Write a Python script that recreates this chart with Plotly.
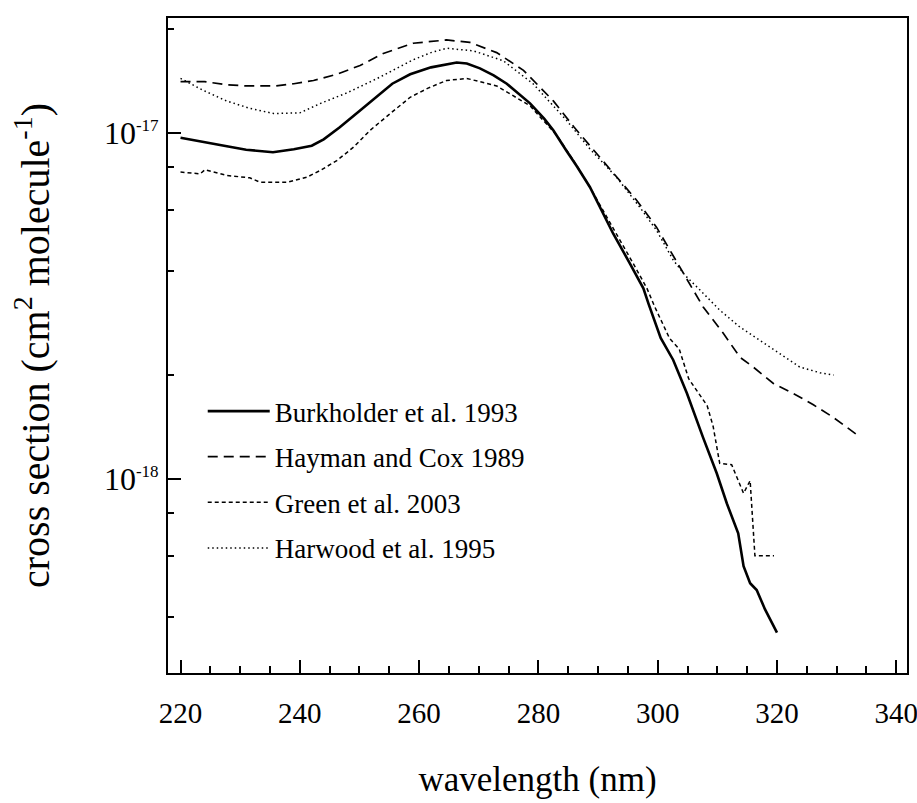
import plotly.graph_objects as go

# ---- data ----
burk_wl = [220, 224, 228, 231, 235.5, 239, 242, 244, 246.7, 250, 252, 255.5, 258.5, 262, 266.3, 268,
           270.2, 272.5, 274.7, 278.6, 281, 282.5, 284.7, 286.5, 288.65, 290.6, 292.55, 295.35, 297.6,
           298.5, 300.5, 302.6, 304.9, 307.6, 309.9, 311.6, 313.5, 314.4, 315.5, 316.6, 318, 320]
burk_cs = [9.7e-18, 9.4e-18, 9.15e-18, 8.96e-18, 8.81e-18, 8.99e-18, 9.2e-18, 9.6e-18, 1.04e-17, 1.16e-17,
           1.24e-17, 1.39e-17, 1.48e-17, 1.55e-17, 1.60e-17, 1.59e-17, 1.54e-17, 1.47e-17, 1.39e-17, 1.22e-17,
           1.10e-17, 1.02e-17, 8.9e-18, 8.0e-18, 6.98e-18, 6.0e-18, 5.12e-18, 4.2e-18, 3.56e-18, 3.2e-18,
           2.56e-18, 2.21e-18, 1.77e-18, 1.32e-18, 1.04e-18, 8.5e-19, 6.97e-19, 5.6e-19, 5.0e-19, 4.78e-19,
           4.2e-19, 3.6e-19]

hay_wl = [220, 224, 227.7, 231, 236, 239, 242.3, 246.2, 250.1, 254, 259, 264.6, 268.5, 273, 277.5, 282.5,
          286, 289.8, 293.1, 296.5, 299.8, 302.1, 304.9, 307.6, 311.0, 313.8, 316.0, 319.4, 322.7, 326.1,
          329.4, 333.5]
hay_cs = [1.41e-17, 1.41e-17, 1.38e-17, 1.37e-17, 1.37e-17, 1.39e-17, 1.42e-17, 1.48e-17, 1.57e-17, 1.70e-17,
          1.82e-17, 1.86e-17, 1.83e-17, 1.71e-17, 1.52e-17, 1.24e-17, 1.04e-17, 8.72e-18, 7.46e-18, 6.39e-18,
          5.35e-18, 4.58e-18, 3.8e-18, 3.15e-18, 2.64e-18, 2.25e-18, 2.11e-18, 1.89e-18, 1.77e-18, 1.64e-18,
          1.51e-18, 1.34e-18]

green_wl = [220, 223.3, 224.1, 227.7, 231.6, 233.3, 238, 241.2, 243.4, 246.2, 249, 251.8, 255.7, 258.5,
            261.5, 264.6, 268, 273, 278.6, 283.1, 285.9, 288.6, 291.5, 293.1, 295.9, 298.2, 299.5, 302.0,
            303.6, 305.2, 308.3, 309.3, 310.4, 312.4, 314.4, 315.5, 316.3, 319.5]
green_cs = [7.72e-18, 7.63e-18, 7.84e-18, 7.55e-18, 7.43e-18, 7.22e-18, 7.22e-18, 7.46e-18, 7.8e-18, 8.33e-18,
            9.11e-18, 1.02e-17, 1.16e-17, 1.27e-17, 1.35e-17, 1.42e-17, 1.44e-17, 1.37e-17, 1.20e-17, 9.85e-18,
            8.33e-18, 7.0e-18, 5.71e-18, 5.12e-18, 4.2e-18, 3.56e-18, 3.15e-18, 2.55e-18, 2.38e-18, 1.95e-18,
            1.63e-18, 1.42e-18, 1.11e-18, 1.10e-18, 9.1e-19, 9.9e-19, 6.0e-19, 6.0e-19]

har_wl = [220, 223.8, 227.7, 231.6, 235.6, 240, 243.5, 248, 253, 256, 259, 262, 264.6, 269.1, 274.1, 279.1,
          284.7, 288.65, 293.1, 297.0, 299.8, 302.6, 304.6, 307.1, 310.4, 313.8, 317.1, 320.5, 323.8, 327.2,
          329.5]
har_cs = [1.44e-17, 1.33e-17, 1.24e-17, 1.18e-17, 1.14e-17, 1.145e-17, 1.22e-17, 1.31e-17, 1.44e-17, 1.53e-17,
          1.63e-17, 1.71e-17, 1.76e-17, 1.73e-17, 1.62e-17, 1.39e-17, 1.09e-17, 9.0e-18, 7.46e-18, 6.11e-18,
          5.24e-18, 4.30e-18, 3.88e-18, 3.52e-18, 3.08e-18, 2.75e-18, 2.52e-18, 2.31e-18, 2.11e-18, 2.03e-18,
          2.0e-18]

names = ["Burkholder et al. 1993", "Hayman and Cox 1989", "Green et al. 2003", "Harwood et al. 1995"]

x_ticks = [220, 240, 260, 280, 300, 320, 340]
x_minor = [225, 230, 235, 245, 250, 255, 265, 270, 275, 285, 290, 295, 305, 310, 315, 325, 330, 335]
y_ticks = [1e-18, 1e-17]
y_ticktext = ["10<sup><span style='font-size:17px'>-18</span></sup>",
              "10<sup><span style='font-size:17px'>-17</span></sup>"]
y_minor = [4e-19, 6e-19, 8e-19, 2e-18, 4e-18, 6e-18, 8e-18, 2e-17]

FONT = "Liberation Serif"

fig = go.Figure()
series = [
    (burk_wl, burk_cs, dict(color="black", width=2.6, dash="solid")),
    (hay_wl, hay_cs, dict(color="black", width=1.7, dash="10px,6px")),
    (green_wl, green_cs, dict(color="black", width=1.5, dash="4px,3px")),
    (har_wl, har_cs, dict(color="black", width=1.5, dash="1.5px,3px")),
]
for i, ((wx, wy, ln), nm) in enumerate(zip(series, names)):
    fig.add_trace(go.Scatter(x=wx, y=wy, mode="lines", name=nm, line=ln, legendgroup=f"g{i}"))

axis_common = dict(showline=True, linecolor="black", linewidth=2, mirror=True, showgrid=False,
                   zeroline=False, ticks="inside", tickcolor="black", tickwidth=2, ticklen=13,
                   ticklabeloverflow="allow")

fig.update_xaxes(range=[217.9, 341.8], tickmode="array", tickvals=x_ticks,
                 ticktext=[str(v) for v in x_ticks], ticklabelstandoff=13,
                 tickfont=dict(family=FONT, size=29, color="black"),
                 minor=dict(tickmode="array", tickvals=x_minor, ticks="inside", ticklen=7,
                            tickwidth=2, tickcolor="black", showgrid=False),
                 title=dict(text="wavelength (nm)", font=dict(family=FONT, size=35, color="black"),
                            standoff=39),
                 **axis_common)
fig.update_yaxes(type="log", range=[-18.5605, -16.667], tickmode="array", tickvals=y_ticks,
                 ticktext=y_ticktext, ticklabelstandoff=1,
                 tickfont=dict(family=FONT, size=32, color="black"),
                 minor=dict(tickmode="array", tickvals=y_minor, ticks="inside", ticklen=6,
                            tickwidth=2, tickcolor="black", showgrid=False),
                 title=dict(text="cross section (cm<sup>2</sup> molecule<sup>-1</sup>)",
                            font=dict(family=FONT, size=40, color="black"), standoff=42),
                 **axis_common)

fig.update_layout(
    width=917, height=803,
    margin=dict(l=168, r=10, t=17.5, b=129.7, autoexpand=False),
    paper_bgcolor="white", plot_bgcolor="white",
    showlegend=True,
    legend=dict(x=0.047, y=0.4366, xanchor="left", yanchor="top",
                font=dict(family=FONT, size=27, color="black"),
                bgcolor="rgba(0,0,0,0)", tracegroupgap=7.5, itemwidth=62),
)

fig.write_html("out.html", config={"displayModeBar": False},
               post_script="document.body.style.margin='0';document.body.style.overflow='hidden';")
